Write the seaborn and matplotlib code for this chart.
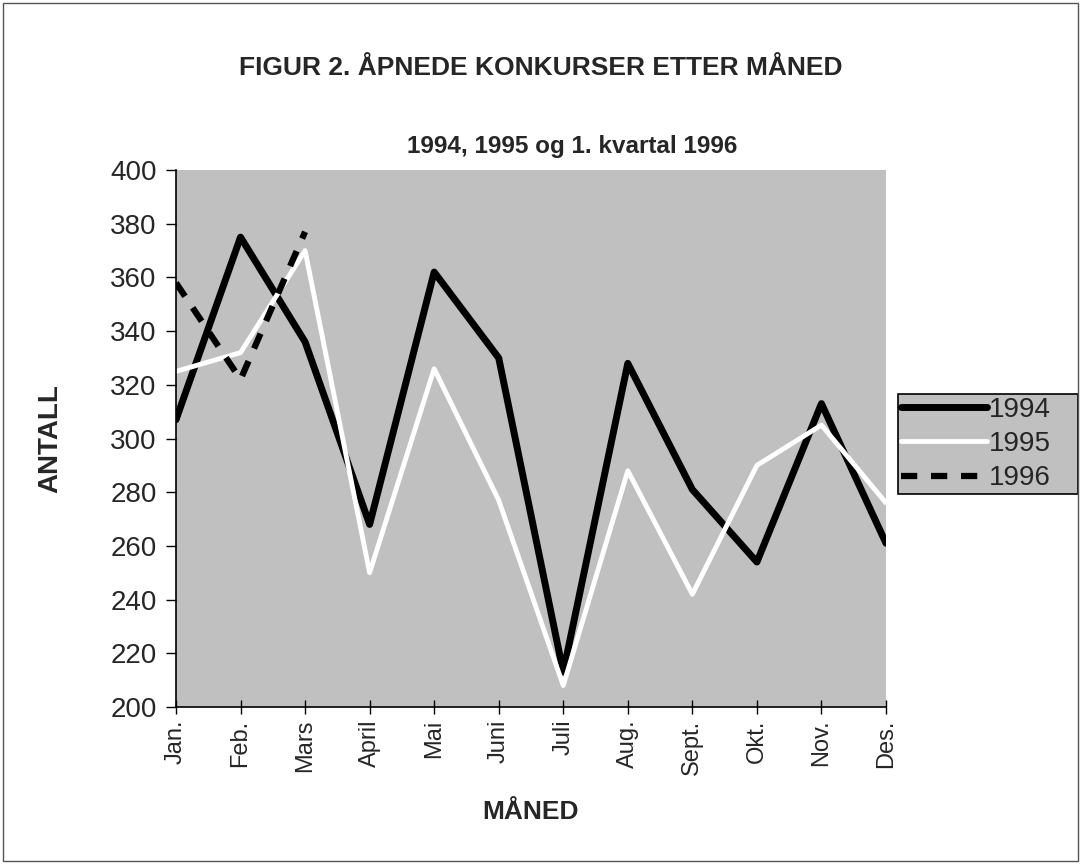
import matplotlib
matplotlib.use("Agg")
import matplotlib.pyplot as plt
import seaborn as sns
import pandas as pd
from matplotlib.patches import Rectangle

months = ["Jan.", "Feb.", "Mars", "April", "Mai", "Juni", "Juli", "Aug.", "Sept.", "Okt.", "Nov.", "Des."]
y1994 = [307, 375, 336, 268, 362, 330, 213, 328, 281, 254, 313, 261]
y1995 = [325, 332, 370, 250, 326, 277, 208, 288, 242, 290, 305, 276]
y1996 = [358, 322, 377]
yticks = [200, 220, 240, 260, 280, 300, 320, 340, 360, 380, 400]

sns.set_theme(style="white")
plt.rcParams['font.family'] = ['Liberation Sans', 'DejaVu Sans']

fig = plt.figure(figsize=(10.81, 8.64), dpi=100)
ax = fig.add_axes([0.1628, 0.1817, 0.6568, 0.6215])
ax.set_facecolor('#c0c0c0')

x = list(range(len(months)))
df94 = pd.DataFrame({"x": x, "v": y1994})
df95 = pd.DataFrame({"x": x, "v": y1995})
df96 = pd.DataFrame({"x": x[:len(y1996)], "v": y1996})

sns.lineplot(data=df94, x="x", y="v", ax=ax, color="black", linewidth=5, label="1994")
sns.lineplot(data=df95, x="x", y="v", ax=ax, color="white", linewidth=3.5, label="1995")
sns.lineplot(data=df96, x="x", y="v", ax=ax, color="black", linewidth=4.5, label="1996",
             dashes=False)
ax.lines[-1].set_linestyle((0, (2.6, 2.2)))

ax.set_xlim(0, len(months) - 1)
ax.set_ylim(200, 400)
ax.set_xticks(x)
ax.set_xticklabels(months, rotation=90, fontsize=17)
ax.set_yticks(yticks)
ax.set_yticklabels([str(t) for t in yticks], fontsize=20)
ax.tick_params(axis='x', direction='inout', length=10, width=1, color='black', pad=4)
ax.tick_params(axis='y', direction='out', length=7, width=1, color='black', pad=7, left=True)
ax.tick_params(axis='x', bottom=True)

for s in ['top', 'right']:
    ax.spines[s].set_visible(False)
for s in ['left', 'bottom']:
    ax.spines[s].set_visible(True)
    ax.spines[s].set_color('black')
    ax.spines[s].set_linewidth(1.2)

ax.set_xlabel("MÅNED", fontsize=19, fontweight='bold', labelpad=18)
ax.set_ylabel("ANTALL", fontsize=20, fontweight='bold', labelpad=34)

fig.text(0.5, 0.921, "FIGUR 2. ÅPNEDE KONKURSER ETTER MÅNED", ha='center', va='center',
         fontsize=19, fontweight='bold')
fig.text(0.529, 0.831, "1994, 1995 og 1. kvartal 1996", ha='center', va='center',
         fontsize=17.5, fontweight='bold')

leg = ax.legend(loc='center left', bbox_to_anchor=(0.831, 0.4155, 0.1665, 0.141),
                bbox_transform=fig.transFigure, mode='expand', frameon=True,
                fontsize=20, handlelength=3.1, handletextpad=0.05, borderpad=0.1,
                labelspacing=0.3, borderaxespad=0, fancybox=False)
frame = leg.get_frame()
frame.set_facecolor('#c0c0c0')
frame.set_edgecolor('black')
frame.set_linewidth(1.2)
frame.set_alpha(1)

fig.patches.append(Rectangle((0.003, 0.003), 0.994, 0.994, transform=fig.transFigure,
                             fill=False, edgecolor='#555555', linewidth=1))

fig.savefig("out.png", dpi=100)
